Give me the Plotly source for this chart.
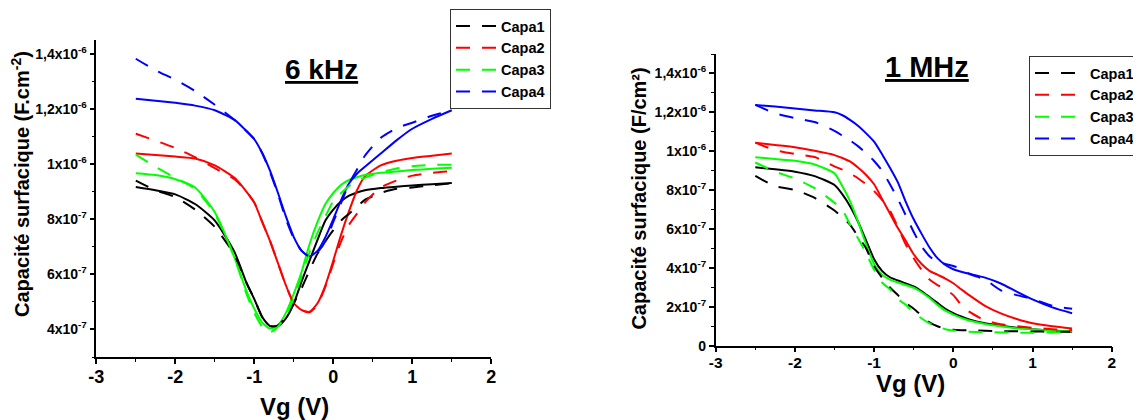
import plotly.graph_objects as go

# ---------------- data (capacitance in units of 1e-7 F/cm2) ----------------
SCALE = 1e-7
series_names = ["Capa1", "Capa2", "Capa3", "Capa4"]
colors = ["#000000", "#ff0000", "#00ff00", "#0000ff"]

# 6 kHz panel
vg_6k = [-2.5, -2.25, -2.0, -1.75, -1.5, -1.25, -1.1, -1.0, -0.9, -0.8, -0.7, -0.6, -0.5,
         -0.4, -0.3, -0.2, -0.1, 0.0, 0.1, 0.2, 0.3, 0.4, 0.6, 0.8, 1.0, 1.25, 1.5]
k6_capa1_solid = [9.17, 9.05, 8.9, 8.55, 7.95, 6.8, 5.7, 5.1, 4.45, 4.12, 4.12, 4.4, 4.94,
                  5.75, 6.5, 7.25, 7.95, 8.35, 8.65, 8.85, 8.97, 9.05, 9.13, 9.18, 9.22, 9.27, 9.31]
k6_capa1_dash = [9.4, 9.05, 8.8, 8.35, 7.72, 6.7, 5.7, 5.1, 4.45, 4.12, 4.15, 4.45, 4.95,
                 5.5, 6.15, 6.75, 7.2, 7.6, 7.95, 8.2, 8.45, 8.7, 8.95, 9.1, 9.15, 9.23, 9.3]
k6_capa2_solid = [10.38, 10.33, 10.27, 10.2, 9.95, 9.5, 9.0, 8.6, 7.9, 7.2, 6.4, 5.6, 4.95,
                  4.7, 4.64, 4.95, 5.6, 6.5, 7.45, 8.3, 9.05, 9.55, 9.95, 10.12, 10.22, 10.3, 10.38]
k6_capa2_dash = [11.1, 10.85, 10.58, 10.25, 9.85, 9.45, 9.0, 8.6, 7.9, 7.2, 6.4, 5.6, 4.95,
                 4.7, 4.62, 4.9, 5.55, 6.4, 7.2, 7.8, 8.2, 8.6, 9.15, 9.4, 9.58, 9.68, 9.74]
k6_capa3_solid = [9.67, 9.6, 9.45, 9.15, 8.25, 6.6, 5.4, 4.75, 4.25, 4.03, 4.15, 4.6, 5.3,
                  6.1, 7.1, 7.9, 8.55, 8.95, 9.25, 9.42, 9.52, 9.6, 9.68, 9.73, 9.78, 9.83, 9.87]
k6_capa3_dash = [10.34, 9.9, 9.5, 9.1, 8.2, 6.6, 5.3, 4.6, 4.1, 3.9, 4.1, 4.5, 5.15,
                 5.95, 6.8, 7.5, 8.1, 8.65, 8.95, 9.2, 9.38, 9.5, 9.7, 9.84, 9.92, 9.97, 9.97]
k6_capa4_solid = [12.37, 12.3, 12.22, 12.12, 11.95, 11.6, 11.2, 10.9, 10.4, 9.75, 8.95, 8.1, 7.35,
                  6.85, 6.65, 6.85, 7.35, 8.0, 8.7, 9.3, 9.65, 9.9, 10.38, 10.86, 11.28, 11.64, 11.95]
k6_capa4_dash = [13.82, 13.4, 13.06, 12.65, 12.15, 11.6, 11.2, 10.9, 10.4, 9.7, 8.9, 8.0, 7.3,
                 6.85, 6.65, 6.8, 7.2, 7.9, 8.6, 9.3, 9.8, 10.3, 10.95, 11.3, 11.5, 11.75, 11.95]

# 1 MHz panel
vg_1m = [-2.5, -2.25, -2.0, -1.75, -1.5, -1.4, -1.3, -1.2, -1.1, -1.0, -0.9, -0.8, -0.7, -0.6,
         -0.5, -0.4, -0.3, -0.2, -0.1, 0.0, 0.1, 0.2, 0.4, 0.6, 0.8, 1.0, 1.25, 1.5]
m1_capa1_solid = [9.17, 9.07, 8.95, 8.72, 8.26, 7.78, 7.15, 6.35, 5.4, 4.45, 3.85, 3.52, 3.35, 3.2,
                  3.05, 2.8, 2.5, 2.2, 1.9, 1.68, 1.5, 1.35, 1.15, 1.02, 0.92, 0.85, 0.78, 0.72]
m1_capa1_dash = [8.73, 8.2, 8.01, 7.6, 6.95, 6.6, 6.2, 5.6, 5.0, 4.08, 3.5, 3.0, 2.6, 2.2,
                 1.9, 1.55, 1.2, 1.0, 0.88, 0.82, 0.8, 0.8, 0.77, 0.75, 0.74, 0.73, 0.72, 0.72]
m1_capa2_solid = [10.44, 10.32, 10.2, 10.02, 9.8, 9.65, 9.46, 9.15, 8.78, 8.3, 7.55, 6.8, 6.05, 5.4,
                  4.7, 4.2, 3.85, 3.65, 3.45, 3.21, 2.9, 2.6, 2.05, 1.66, 1.37, 1.15, 1.0, 0.89]
m1_capa2_dash = [10.44, 10.06, 9.86, 9.7, 9.22, 9.05, 8.85, 8.6, 8.3, 7.95, 7.5, 6.95, 6.1, 5.2,
                 4.5, 3.9, 3.4, 3.12, 2.9, 2.6, 2.1, 1.75, 1.3, 1.1, 1.0, 0.92, 0.85, 0.8]
m1_capa3_solid = [9.69, 9.6, 9.51, 9.32, 8.86, 8.2, 7.4, 6.35, 5.2, 4.2, 3.65, 3.4, 3.25, 3.12,
                  2.98, 2.75, 2.45, 2.1, 1.8, 1.6, 1.43, 1.3, 1.12, 1.0, 0.9, 0.84, 0.78, 0.74]
m1_capa3_dash = [9.42, 8.95, 8.6, 8.1, 7.35, 6.98, 6.2, 5.5, 4.75, 3.9, 3.25, 2.9, 2.4, 2.1,
                 1.7, 1.4, 1.15, 0.98, 0.85, 0.78, 0.75, 0.72, 0.7, 0.68, 0.67, 0.67, 0.68, 0.7]
m1_capa4_solid = [12.38, 12.3, 12.2, 12.1, 12.0, 11.85, 11.6, 11.3, 10.92, 10.49, 9.85, 9.15, 8.4, 7.4,
                  6.5, 5.75, 5.05, 4.5, 4.15, 3.93, 3.8, 3.7, 3.5, 3.2, 2.78, 2.38, 1.97, 1.67]
m1_capa4_dash = [12.38, 11.95, 11.7, 11.5, 11.05, 10.8, 10.55, 10.25, 9.9, 9.5, 9.0, 8.3, 7.55, 6.7,
                 5.85, 5.1, 4.6, 4.3, 4.2, 4.1, 3.95, 3.7, 3.4, 2.85, 2.6, 2.4, 2.05, 1.9]

k6_solid = [k6_capa1_solid, k6_capa2_solid, k6_capa3_solid, k6_capa4_solid]
k6_dash = [k6_capa1_dash, k6_capa2_dash, k6_capa3_dash, k6_capa4_dash]
m1_solid = [m1_capa1_solid, m1_capa2_solid, m1_capa3_solid, m1_capa4_solid]
m1_dash = [m1_capa1_dash, m1_capa2_dash, m1_capa3_dash, m1_capa4_dash]

x_tickvals = [-3, -2, -1, 0, 1, 2]
x_ticktext = ["-3", "-2", "-1", "0", "1", "2"]
y6_tickvals = [4e-7, 6e-7, 8e-7, 1e-6, 1.2e-6, 1.4e-6]
y6_ticktext = ["4x10<sup>-7</sup>", "6x10<sup>-7</sup>", "8x10<sup>-7</sup>",
               "1x10<sup>-6</sup>", "1,2x10<sup>-6</sup>", "1,4x10<sup>-6</sup>"]
y1_tickvals = [0, 2e-7, 4e-7, 6e-7, 8e-7, 1e-6, 1.2e-6, 1.4e-6]
y1_ticktext = ["0", "2x10<sup>-7</sup>", "4x10<sup>-7</sup>", "6x10<sup>-7</sup>", "8x10<sup>-7</sup>",
               "1x10<sup>-6</sup>", "1,2x10<sup>-6</sup>", "1,4x10<sup>-6</sup>"]

FONT = "Liberation Sans"
OFF = 8                      # page body margin of the written html
W, H = 1141 - OFF, 420 - OFF
DASH = "14px,12px"


def px(x):                   # page pixel -> paper fraction (x)
    return (x - OFF) / W


def py(y):                   # page pixel -> paper fraction (y, from top)
    return 1 - (y - OFF) / H


fig = go.Figure()


def add_panel(vg, solids, dashes, xa, ya, legend):
    for i in range(4):
        fig.add_trace(go.Scatter(
            x=vg, y=[v * SCALE for v in solids[i]], mode="lines",
            line=dict(color=colors[i], width=2, shape="spline", smoothing=0.6),
            xaxis=xa, yaxis=ya, showlegend=False, hoverinfo="skip"))
    for i in range(4):
        fig.add_trace(go.Scatter(
            x=vg, y=[v * SCALE for v in dashes[i]], mode="lines", name=series_names[i],
            line=dict(color=colors[i], width=2, dash=DASH, shape="spline", smoothing=0.6),
            xaxis=xa, yaxis=ya, legend=legend, showlegend=True))


add_panel(vg_6k, k6_solid, k6_dash, "x", "y", "legend")
add_panel(vg_1m, m1_solid, m1_dash, "x2", "y2", "legend2")


def xaxis_style(domain, size, anchor, standoff):
    return dict(domain=domain, anchor=anchor, range=[-3, 2], tickmode="array",
                tickvals=x_tickvals, ticktext=x_ticktext,
                showline=True, linecolor="black", linewidth=1.5, mirror=False,
                ticks="outside", ticklen=5, tickwidth=1.5, tickcolor="black",
                minor=dict(tickmode="linear", tick0=0, dtick=0.5, ticks="outside",
                           ticklen=3, tickwidth=1.2, tickcolor="black"),
                showgrid=False, zeroline=False, automargin=False,
                ticklabelstandoff=standoff,
                tickfont=dict(family=FONT, size=size, color="black", weight="bold"))


def yaxis_style(domain, rng, tv, tt, anchor):
    return dict(domain=domain, anchor=anchor, range=rng, tickmode="array",
                tickvals=tv, ticktext=tt,
                showline=True, linecolor="black", linewidth=1.5, mirror=False,
                ticks="outside", ticklen=5, tickwidth=1.5, tickcolor="black",
                minor=dict(tickmode="linear", tick0=0, dtick=1e-7, ticks="outside",
                           ticklen=3, tickwidth=1.2, tickcolor="black"),
                showgrid=False, zeroline=False, automargin=False,
                tickfont=dict(family=FONT, size=14, color="black", weight="bold"))


legend_common = dict(bgcolor="white", bordercolor="#333333", borderwidth=1,
                     font=dict(family=FONT, size=14.5, color="black", weight="bold"),
                     xanchor="left", yanchor="top", tracegroupgap=0)

fig.update_layout(
    width=W, height=H,
    margin=dict(l=0, r=0, t=0, b=0, autoexpand=False),
    paper_bgcolor="white", plot_bgcolor="white",
    font=dict(family=FONT, color="black", size=14),
    xaxis=xaxis_style([px(96.3), px(491.3)], 18, "y", -2),
    yaxis=yaxis_style([py(357), py(40)], [3e-7, 1.45e-6], y6_tickvals, y6_ticktext, "x"),
    xaxis2=xaxis_style([px(715.7), px(1111.7)], 15.5, "y2", -3),
    yaxis2=yaxis_style([py(345.7), py(54)], [0, 1.5e-6], y1_tickvals, y1_ticktext, "x2"),
    legend=dict(x=px(450), y=py(9), itemwidth=40, **legend_common),
    legend2=dict(x=px(1029), y=py(56), itemwidth=50, **legend_common),
    showlegend=True,
)


def ann(text, x, y, size, angle=0):
    fig.add_annotation(text=text, x=px(x), y=py(y), xref="paper", yref="paper",
                       xanchor="center", yanchor="middle", showarrow=False, textangle=angle,
                       font=dict(family=FONT, size=size, color="black", weight="bold"))


ann("<u>6 kHz</u>", 321.7, 69, 28)
ann("<u>1 MHz</u>", 927, 66.7, 29)
ann("Capacité surfacique (F.cm<sup>-2</sup>)", 20, 184, 20, -90)
ann("Capacité surfacique (F/cm²)", 638.6, 199, 20, -90)
ann("Vg (V)", 294, 406, 24)
ann("Vg (V)", 910, 383, 24)

fig.write_html("out.html")
